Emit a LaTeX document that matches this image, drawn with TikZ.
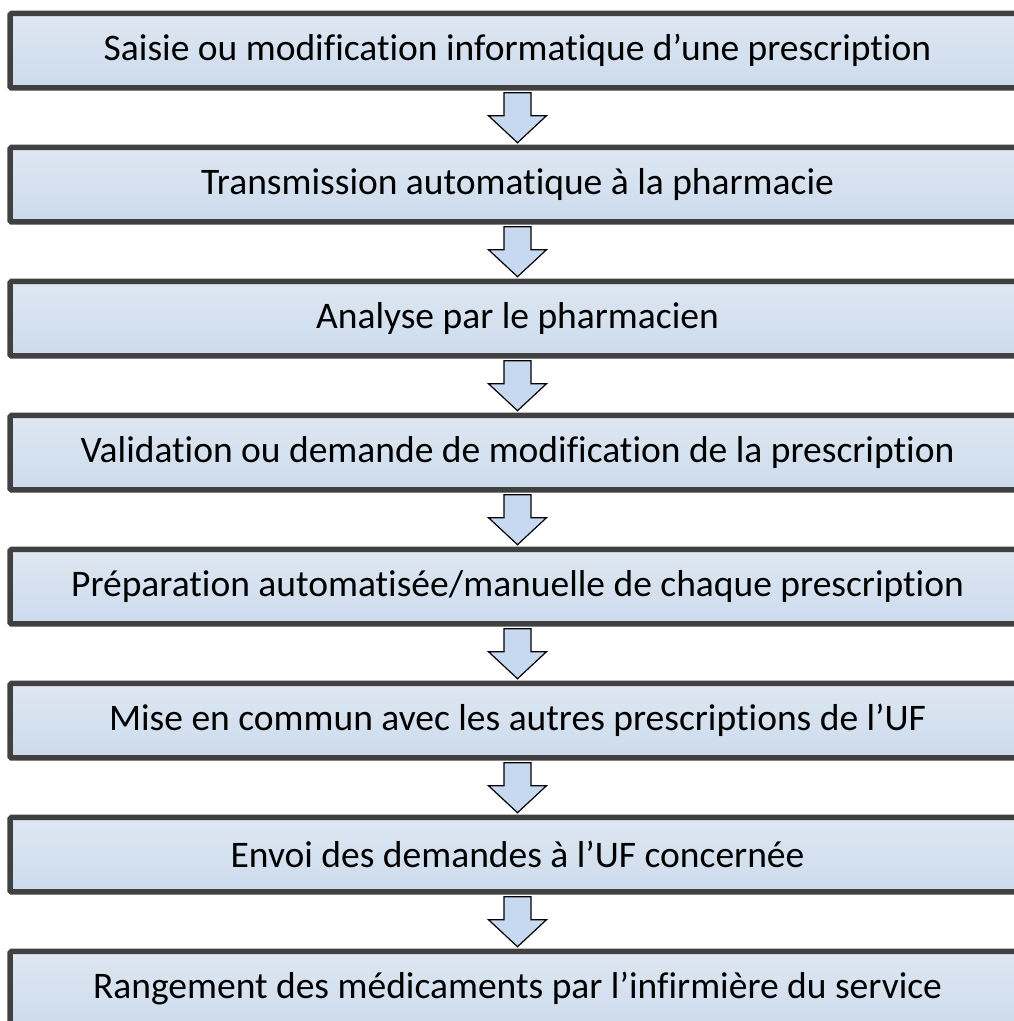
\documentclass[tikz,border=0pt]{standalone}
\usepackage{fontspec}
\setmainfont[Ligatures=CommonOff]{Carlito}
\usetikzlibrary{positioning,calc}
\definecolor{boxline}{HTML}{404040}
\definecolor{boxtop}{HTML}{DEE7F2}
\definecolor{boxbot}{HTML}{CCDBEC}
\definecolor{arrowfill}{HTML}{C6D9F1}
\tikzset{
  etape/.style={draw=boxline, line width=5.5pt, rounded corners=1.5pt,
    top color=boxtop, bottom color=boxbot, outer sep=0pt,
    minimum width=1015pt, minimum height=74.5pt, inner sep=0pt,
    font=\fontsize{37.5}{45}\selectfont},
  fleche/.style={draw=black, line width=1.2pt, fill=arrowfill, line join=miter}
}
\begin{document}
\begin{tikzpicture}[x=1pt,y=1pt,node distance=59.5pt]
	\useasboundingbox (0,0) rectangle (1014,-1021);
	\clip (0,0) rectangle (1014,-1021);
	\node[etape] (e1) at (517.5,-50.7) {Saisie ou modification informatique d’une prescription};
	\node[etape, below=of e1] (e2) {Transmission automatique à la pharmacie};
	\node[etape, below=of e2] (e3) {Analyse par le pharmacien};
	\node[etape, below=of e3] (e4) {Validation ou demande de modification de la prescription};
	\node[etape, below=of e4] (e5) {Préparation automatisée/manuelle de chaque prescription};
	\node[etape, below=of e5] (e6) {Mise en commun avec les autres prescriptions de l’UF};
	\node[etape, below=of e6] (e7) {Envoi des demandes à l’UF concernée};
	\node[etape, below=of e7] (e8) {Rangement des médicaments par l’infirmière du service};
	% fleches creuses entre les etapes
	\foreach \a/\b in {e1/e2,e2/e3,e3/e4,e4/e5,e5/e6,e6/e7,e7/e8}{
		\coordinate (m\a) at ($(\a.south)!0.5!(\b.north)$);
		\draw[fleche] (m\a) ++(-13.5,25) -- ++(27,0) -- ++(0,-23) -- ++(15.5,0)
			-- ++(-29,-27) -- ++(-29,27) -- ++(15.5,0) -- cycle;
	}
\end{tikzpicture}
\end{document}
